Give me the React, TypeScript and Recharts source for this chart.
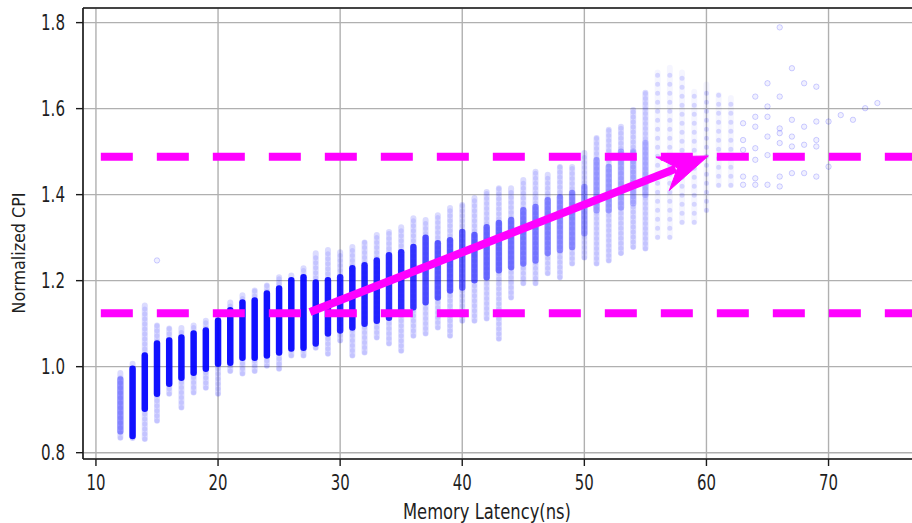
import React from 'react';
import { ScatterChart, Scatter, XAxis, YAxis, CartesianGrid, ReferenceLine } from 'recharts';

// Memory latency columns (ns) with the spread of normalized CPI observed at each latency.
const latencyNs = [
  12, 13, 14, 15, 16, 17, 18, 19, 20, 21, 22, 23, 24, 25, 26, 27, 28, 29, 30, 31, 32, 33, 34, 35, 36,
  37, 38, 39, 40, 41, 42, 43, 44, 45, 46, 47, 48, 49, 50, 51, 52, 53, 54, 55, 56, 57, 58, 59, 60, 61, 62,
];
const spreadLow = [
  0.835, 0.834, 0.832, 0.874, 0.937, 0.905, 0.94, 0.951, 0.937, 0.99, 0.984, 0.99, 1.002, 0.995, 1.026, 1.026,
  1.044, 1.03, 1.061, 1.026, 1.033, 1.068, 1.054, 1.037, 1.072, 1.077, 1.091, 1.072, 1.107, 1.107, 1.112, 1.065,
  1.161, 1.194, 1.194, 1.217, 1.208, 1.24, 1.254, 1.24, 1.247, 1.264, 1.278, 1.275, 1.301, 1.301, 1.336, 1.336,
  1.364, 1.422, 1.422,
];
const spreadHigh = [
  0.985, 1.007, 1.142, 1.096, 1.089, 1.09, 1.096, 1.107, 1.119, 1.149, 1.166, 1.177, 1.189, 1.208, 1.212, 1.229,
  1.264, 1.271, 1.266, 1.278, 1.289, 1.306, 1.313, 1.324, 1.345, 1.341, 1.352, 1.369, 1.376, 1.392, 1.406, 1.415,
  1.415, 1.434, 1.453, 1.446, 1.464, 1.464, 1.497, 1.532, 1.551, 1.558, 1.597, 1.637, 1.684, 1.695, 1.684, 1.639,
  1.656, 1.632, 1.625,
];
// Densely populated core of each column (null where the column is only sparsely sampled).
const coreLow = [
  0.85, 0.839, 0.902, 0.937, 0.96, 0.974, 0.986, 0.995, 1.007, 1.009, 1.021, 1.021, 1.026, 1.033, 1.042, 1.044,
  1.054, 1.077, 1.084, 1.091, 1.1, 1.107, 1.114, 1.131, 1.138, 1.15, 1.161, 1.177, 1.184, 1.201, 1.208, 1.224,
  1.231, 1.24, 1.247, 1.264, 1.271, 1.278, 1.31, 1.364, 1.364, 1.37, 1.38, 1.4, null, null, null, null, null, null, null,
];
const coreHigh = [
  0.97, 0.995, 1.026, 1.054, 1.061, 1.068, 1.077, 1.084, 1.107, 1.131, 1.149, 1.154, 1.17, 1.182, 1.201, 1.208,
  1.196, 1.201, 1.208, 1.229, 1.236, 1.247, 1.259, 1.266, 1.278, 1.3, 1.287, 1.294, 1.313, 1.306, 1.324, 1.334,
  1.341, 1.364, 1.371, 1.387, 1.394, 1.404, 1.418, 1.48, 1.464, 1.5, 1.5, 1.52, null, null, null, null, null, null, null,
];
// Relative sample density of each core (1 = saturated).
const coreDensity = [
  0.3, 1, 1, 1, 1, 1, 1, 1, 1, 1, 1, 1, 1, 1, 1, 1, 0.95, 0.95, 0.9, 0.95, 0.9, 0.9, 0.85, 0.85, 0.8,
  0.65, 0.6, 0.6, 0.55, 0.55, 0.5, 0.5, 0.45, 0.4, 0.4, 0.35, 0.3, 0.3, 0.25, 0.2, 0.2, 0.15, 0.12, 0.1, 0, 0, 0, 0, 0, 0, 0,
];

// Individual samples in the sparse high-latency tail and isolated outliers.
const tailLatency = [
  15, 63, 63, 63, 63, 63, 64, 64, 64, 64, 64, 64, 64, 65, 65, 65, 65, 65, 65, 66, 66, 66, 66, 66, 66, 66,
  67, 67, 67, 67, 67, 68, 68, 68, 68, 69, 69, 69, 69, 69, 70, 70, 71, 72, 73, 74,
];
const tailCpi = [
  1.247, 1.566, 1.527, 1.504, 1.442, 1.423, 1.628, 1.581, 1.558, 1.508, 1.481, 1.438, 1.423, 1.659, 1.605, 1.581,
  1.535, 1.492, 1.423, 1.789, 1.628, 1.554, 1.543, 1.52, 1.442, 1.419, 1.694, 1.574, 1.535, 1.512, 1.45, 1.659,
  1.558, 1.516, 1.45, 1.651, 1.57, 1.527, 1.512, 1.442, 1.57, 1.465, 1.585, 1.574, 1.601, 1.613,
];

// CPI thresholds and the trend arrow between them.
const thresholdLow = 1.124;
const thresholdHigh = 1.488;
const thresholdStart = 10.4;
const trendStart = { x: 27.53, y: 1.127 };
const trendEnd = { x: 60.15, y: 1.49 };

const xTicks = [10, 20, 30, 40, 50, 60, 70];
const yTicks = [0.8, 1.0, 1.2, 1.4, 1.6, 1.8];
const X_MIN = 8.94;
const X_MAX = 77.49;
const Y_MIN = 0.7853;
const Y_MAX = 1.834;

const FONT = 'DejaVu Sans';
const BLUE = '#0000ff';
const MAGENTA = '#ff00ff';
const TEXT = '#1e1e1e';

const EmptyShape = () => <g />;

type Pt = { x: number; y: number };

const segmentLine = (style: React.SVGProps<SVGLineElement>) => (p: any) => {
  const pts: Pt[] = p.points ?? [];
  if (pts.length < 2) return <g />;
  const [a, b] = pts;
  return <line x1={a.x} y1={a.y} x2={b.x} y2={b.y} {...style} />;
};

const arrowLine = (p: any) => {
  const pts: Pt[] = p.points ?? [];
  if (pts.length < 2) return <g />;
  const [a, b] = pts;
  const dx = b.x - a.x;
  const dy = b.y - a.y;
  const len = Math.hypot(dx, dy);
  const ux = dx / len;
  const uy = dy / len;
  const nx = -uy;
  const ny = ux;
  const headLen = 49;
  const halfW = 18;
  const notch = 33;
  const bx = b.x - ux * headLen;
  const by = b.y - uy * headLen;
  const shaftEndX = b.x - ux * (notch + 2);
  const shaftEndY = b.y - uy * (notch + 2);
  const head = [
    `${b.x},${b.y}`,
    `${bx + nx * halfW},${by + ny * halfW}`,
    `${b.x - ux * notch},${b.y - uy * notch}`,
    `${bx - nx * halfW},${by - ny * halfW}`,
  ].join(' ');
  return (
    <g>
      <line x1={a.x} y1={a.y} x2={shaftEndX} y2={shaftEndY} stroke={MAGENTA} strokeWidth={8} strokeLinecap="butt" />
      <polygon points={head} fill={MAGENTA} stroke={MAGENTA} strokeWidth={1} strokeLinejoin="miter" />
    </g>
  );
};

const tailDot = (p: any) => (
  <circle cx={p.cx} cy={p.cy} r={2.7} fill={BLUE} fillOpacity={0.06} stroke={BLUE} strokeOpacity={0.2} strokeWidth={0.9} />
);

const XTick = (p: any) => {
  const label = String(p.payload.value);
  return (
    <text x={p.x} y={p.y} dy={22} textAnchor="middle" fontFamily={FONT} fontSize={21} fill={TEXT}
      textLength={label.length * 9.5} lengthAdjust="spacingAndGlyphs">
      {label}
    </text>
  );
};

const YTick = (p: any) => {
  const label = Number(p.payload.value).toFixed(1);
  return (
    <text x={p.x} y={p.y} dy={7.8} textAnchor="end" fontFamily={FONT} fontSize={21} fill={TEXT}
      textLength={24} lengthAdjust="spacingAndGlyphs">
      {label}
    </text>
  );
};

const XLabel = () => (
  <text x={487} y={519} textAnchor="middle" fontFamily={FONT} fontSize={22} fill={TEXT}
    textLength={168} lengthAdjust="spacingAndGlyphs">
    Memory Latency(ns)
  </text>
);

const YLabel = () => (
  <text x={25} y={253} transform="rotate(-90, 25, 253)" textAnchor="middle" fontFamily={FONT} fontSize={17} fill={TEXT}
    textLength={121} lengthAdjust="spacingAndGlyphs">
    Normalized CPI
  </text>
);

export default function App() {
  const tailData = tailLatency.map((x, i) => ({ x, y: tailCpi[i] }));
  return (
    <div style={{ position: 'absolute', left: 0, top: 0, width: 912, height: 523, overflow: 'hidden', background: '#fff' }}>
      <ScatterChart width={930} height={523} margin={{ top: 8, right: 10, bottom: 0, left: 0 }}>
        <CartesianGrid stroke="#b0b0b0" strokeWidth={1.4} />
        <XAxis
          type="number"
          dataKey="x"
          domain={[X_MIN, X_MAX]}
          ticks={xTicks}
          interval={0}
          allowDataOverflow
          height={64}
          tickSize={7}
          tickMargin={2}
          axisLine={{ stroke: '#1a1a1a', strokeWidth: 1.6 }}
          tickLine={{ stroke: '#1a1a1a', strokeWidth: 1.4 }}
          tick={<XTick />}
          label={{ content: XLabel }}
        />
        <YAxis
          type="number"
          dataKey="y"
          domain={[Y_MIN, Y_MAX]}
          ticks={yTicks}
          interval={0}
          allowDataOverflow
          width={83}
          tickSize={7}
          tickMargin={11}
          axisLine={{ stroke: '#1a1a1a', strokeWidth: 1.6 }}
          tickLine={{ stroke: '#1a1a1a', strokeWidth: 1.4 }}
          tick={<YTick />}
          label={{ content: YLabel }}
        />
        <ReferenceLine y={Y_MAX} stroke="#1a1a1a" strokeWidth={1.6} ifOverflow="visible" />

        {/* faint extent of every latency column */}
        {latencyNs.map((x, i) => (
          <Scatter
            key={`spread-${x}`}
            data={[{ x, y: spreadLow[i] }, { x, y: spreadHigh[i] }]}
            shape={EmptyShape}
            isAnimationActive={false}
            line={segmentLine({ stroke: BLUE, strokeOpacity: coreLow[i] == null ? 0.04 : 0.14, strokeWidth: 6, strokeLinecap: 'round' })}
          />
        ))}
        {/* individual-looking samples along each column */}
        {latencyNs.map((x, i) => (
          <Scatter
            key={`dots-${x}`}
            data={[{ x, y: spreadLow[i] }, { x, y: spreadHigh[i] }]}
            shape={EmptyShape}
            isAnimationActive={false}
            line={segmentLine({
              stroke: BLUE,
              strokeOpacity: coreLow[i] == null ? 0.13 : 0.1,
              strokeWidth: 5,
              strokeLinecap: 'round',
              strokeDasharray: coreLow[i] == null ? '0 9' : '0 5',
            })}
          />
        ))}
        {/* dense core of each column */}
        {latencyNs.map((x, i) =>
          coreLow[i] == null ? null : (
            <Scatter
              key={`core-${x}`}
              data={[{ x, y: coreLow[i] as number }, { x, y: coreHigh[i] as number }]}
              shape={EmptyShape}
              isAnimationActive={false}
              line={segmentLine({ stroke: BLUE, strokeOpacity: 0.08 + 0.84 * coreDensity[i], strokeWidth: 6.5, strokeLinecap: 'round' })}
            />
          ),
        )}
        <Scatter data={tailData} shape={tailDot} isAnimationActive={false} />

        {/* CPI thresholds */}
        {[thresholdLow, thresholdHigh].map((y) => (
          <Scatter
            key={`threshold-${y}`}
            data={[{ x: thresholdStart, y }, { x: X_MAX, y }]}
            shape={EmptyShape}
            isAnimationActive={false}
            line={segmentLine({ stroke: MAGENTA, strokeWidth: 8, strokeDasharray: '32 24', strokeLinecap: 'butt' })}
          />
        ))}
        <Scatter data={[trendStart, trendEnd]} shape={EmptyShape} isAnimationActive={false} line={arrowLine} />
      </ScatterChart>
    </div>
  );
}
